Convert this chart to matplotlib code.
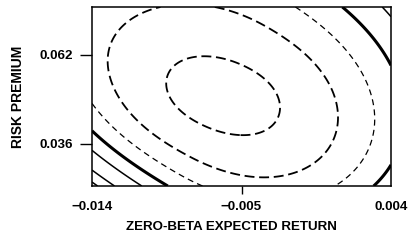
import numpy as np
import matplotlib
matplotlib.use("Agg")
import matplotlib.pyplot as plt

# ---- chart data -------------------------------------------------------
x_range = [-0.014, 0.004]
y_range = [0.0237, 0.0760]
x_ticks = [-0.014, -0.005, 0.004]
x_tick_labels = ["\u22120.014", "\u22120.005", "0.004"]
y_ticks = [0.036, 0.062]
y_tick_labels = ["0.036", "0.062"]
x_label = "ZERO-BETA EXPECTED RETURN"
y_label = "RISK PREMIUM"

# likelihood-surface parameters (peak, scales, orientation, skews)
peak_x = -0.0060836
peak_y = 0.049625
unit_x = 6.0201e-5
unit_y = 2.9218e-4
axis_angle = 0.5465          # radians, far from the peak
inner_twist = 0.25           # radians, less tilt close to the peak
semi_major = 61.13
semi_minor = 35.4
skew_left = -0.02827
skew_right = 0.1
skew_minor = 0.08918
bend_left = -0.02259
bend_right = 0.0964

# contour levels (standardized distance from the peak)
contour_levels = [0.9962, 2.104, 2.814, 3.386, 3.901, 4.484, 4.862]
contour_widths = [1.3, 1.3, 0.9, 2.2, 1.1, 1.1, 1.1]
contour_styles = [(0, (5.5, 2.6)), (0, (5.5, 2.6)), (0, (4.8, 3.4)),
                  "solid", "solid", "solid", "solid"]


def expm1_scaled(g, t):
    if abs(g) < 1e-9:
        return t
    return np.expm1(g * t) / g


# ---- surface ----------------------------------------------------------
xs = np.linspace(x_range[0], x_range[1], 600)
ys = np.linspace(y_range[0], y_range[1], 500)
X, Y = np.meshgrid(xs, ys)
dx = (X - peak_x) / unit_x
dy = (peak_y - Y) / unit_y
r0 = np.sqrt((dx / 60.0) ** 2 + (dy / 40.0) ** 2)
ang = axis_angle - inner_twist * np.exp(-r0 ** 2 / 2)
c, s = np.cos(ang), np.sin(ang)
p = (dx * c + dy * s) / semi_major
q = (dx * s - dy * c) / semi_minor
qb = q - bend_left * np.minimum(p, 0) ** 2 - bend_right * np.maximum(p, 0) ** 2
hp = np.where(p < 0, expm1_scaled(skew_left, p), expm1_scaled(skew_right, p))
hq = expm1_scaled(-skew_minor, qb)
R = np.sqrt(hp ** 2 + hq ** 2)

# ---- figure -----------------------------------------------------------
plt.rcParams["font.family"] = ["Liberation Sans", "DejaVu Sans"]
fig = plt.figure(figsize=(4.12, 2.40), dpi=100)
ax = fig.add_axes([92 / 412, 54 / 240, 299 / 412, 179 / 240])

ax.contour(X, Y, R, levels=contour_levels, colors="black",
           linewidths=contour_widths, linestyles=contour_styles)

ax.set_xlim(*x_range)
ax.set_ylim(*y_range)
for sp in ax.spines.values():
    sp.set_linewidth(1.1)

fs = 9.6
ax.set_xticks(x_ticks)
ax.set_xticklabels(x_tick_labels, fontsize=fs, fontweight="bold")
ax.set_yticks(y_ticks)
ax.set_yticklabels(y_tick_labels, fontsize=fs, fontweight="bold")
ax.tick_params(axis="x", direction="out", length=6, width=1.0, pad=5)
ax.tick_params(axis="y", direction="out", length=8.5, width=1.0, pad=5)
xt = ax.xaxis.get_major_ticks()
xt[0].tick1line.set_visible(False)
xt[-1].tick1line.set_visible(False)

ax.set_xlabel(x_label, fontsize=fs, fontweight="bold")
ax.xaxis.set_label_coords(0.468, -0.229)
ax.xaxis.label.set_va("center")
ax.set_ylabel(y_label, fontsize=10, fontweight="bold")
ax.yaxis.set_label_coords(-0.247, 0.497)
ax.yaxis.label.set_va("center")

fig.savefig("out.png", dpi=100)
